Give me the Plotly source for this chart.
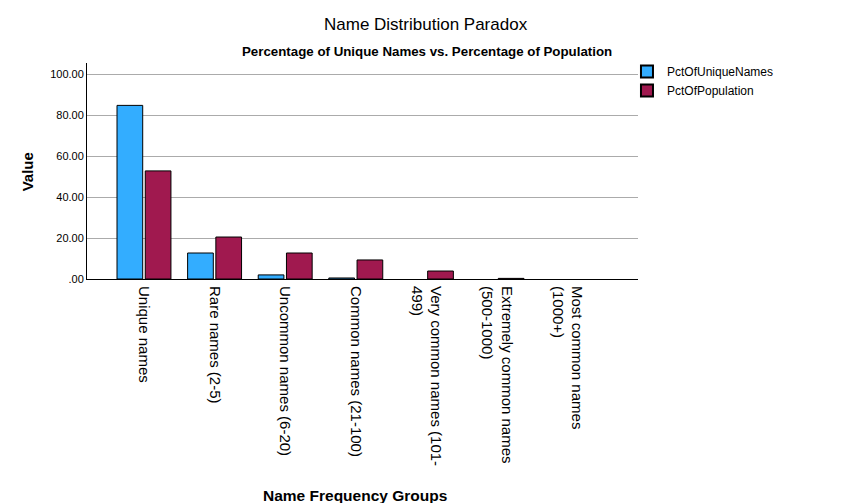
import plotly.graph_objects as go

categories = [
    "Unique names",
    "Rare names (2-5)",
    "Uncommon names (6-20)",
    "Common names (21-100)",
    "Very common names (101-<br>499)",
    "Extremely common names<br>(500-1000)",
    "Most common names<br>(1000+)",
]
pct_unique_names = [84.8, 12.7, 2.0, 0.5, 0.0, 0.0, 0.0]
pct_population = [52.8, 20.5, 12.7, 9.3, 3.9, 0.3, 0.0]
ytick_vals = [0, 20, 40, 60, 80, 100]
ytick_text = [".00", "20.00", "40.00", "60.00", "80.00", "100.00"]

FONT = "Liberation Sans, Arial, sans-serif"


def outline_widths(values):
    return [1 if v > 0 else 0 for v in values]


fig = go.Figure()
fig.add_trace(go.Bar(
    x=categories, y=pct_unique_names, name="PctOfUniqueNames",
    marker=dict(color="#33ADFF",
                line=dict(color="black", width=outline_widths(pct_unique_names))),
))
fig.add_trace(go.Bar(
    x=categories, y=pct_population, name="PctOfPopulation",
    marker=dict(color="#A0194F",
                line=dict(color="black", width=outline_widths(pct_population))),
))

fig.update_layout(
    width=853, height=503, autosize=False,
    margin=dict(l=87, r=215, t=63, b=224, pad=0),
    paper_bgcolor="white", plot_bgcolor="white",
    font=dict(family=FONT, color="black"),
    barmode="group", bargap=0.2, bargroupgap=0.09,
    showlegend=True,
    legend=dict(x=0.98, y=1.028, xanchor="left", yanchor="top",
                font=dict(size=12, family=FONT, color="black"),
                bgcolor="rgba(0,0,0,0)", borderwidth=0,
                tracegroupgap=0, itemsizing="constant"),
    xaxis=dict(
        range=[-0.807, 6.997], showgrid=False, zeroline=False,
        showline=True, linecolor="black", linewidth=1,
        ticks="", tickangle=90, tickfont=dict(size=15, family=FONT, color="black"),
        ticklabelstandoff=3,
    ),
    yaxis=dict(
        range=[0, 105.5], tickvals=ytick_vals, ticktext=ytick_text,
        showgrid=True, gridcolor="#ABABAB", gridwidth=1,
        zeroline=False, showline=True, linecolor="black", linewidth=1,
        ticks="", tickfont=dict(size=11, family=FONT, color="black"),
    ),
    annotations=[
        dict(text="Name Distribution Paradox", xref="paper", yref="paper",
             x=0.615, y=1.18, xanchor="center", yanchor="middle", showarrow=False,
             font=dict(size=17, family=FONT, color="black")),
        dict(text="<b>Percentage of Unique Names vs. Percentage of Population</b>",
             xref="paper", yref="paper", x=0.617, y=1.051, xanchor="center",
             yanchor="middle", showarrow=False,
             font=dict(size=13.3, family=FONT, color="black")),
        dict(text="<b>Value</b>", xref="paper", yref="paper", x=-0.109, y=0.498,
             xanchor="center", yanchor="middle", textangle=-90, showarrow=False,
             font=dict(size=15, family=FONT, color="black")),
        dict(text="<b>Name Frequency Groups</b>", xref="paper", yref="paper",
             x=0.486, y=-0.953, xanchor="center", yanchor="top", showarrow=False,
             font=dict(size=15.5, family=FONT, color="black")),
    ],
)

fig.write_html("out.html",
               config={"displayModeBar": False},
               post_script="document.body.style.margin='0';document.body.style.overflow='hidden';")
